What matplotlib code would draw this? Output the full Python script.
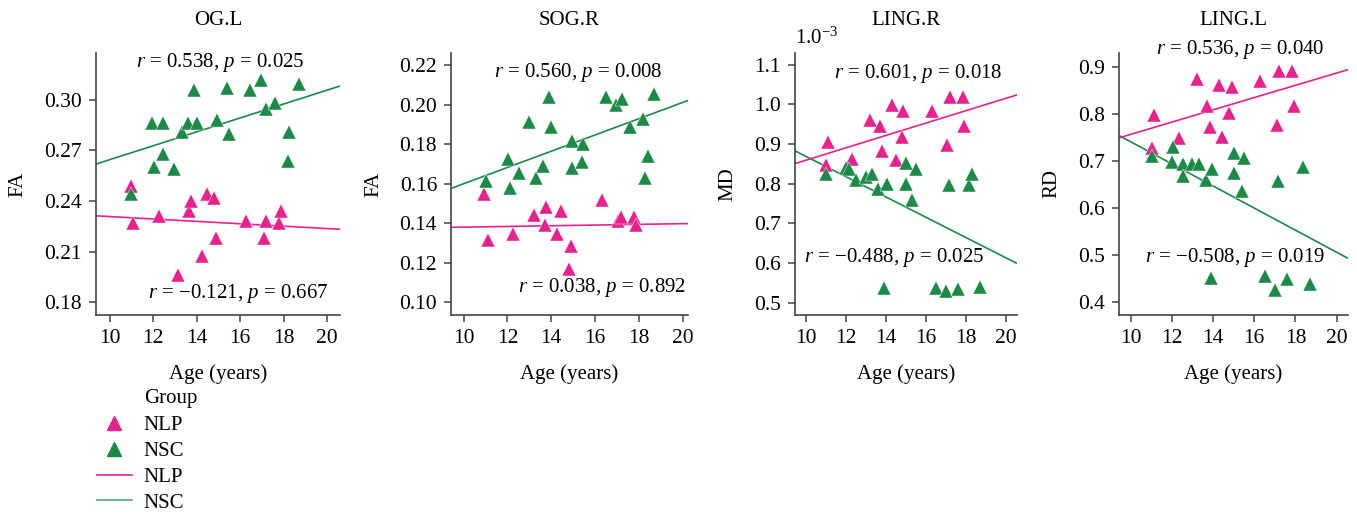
import matplotlib.pyplot as plt
import numpy as np
from matplotlib.lines import Line2D

plt.rcParams['font.family'] = ['Liberation Serif', 'DejaVu Serif']
plt.rcParams['mathtext.fontset'] = 'custom'
plt.rcParams['mathtext.rm'] = 'Liberation Serif'
plt.rcParams['mathtext.it'] = 'Liberation Serif:italic'

pink = '#E8218C'
green = '#1B8A47'

# OG.L (FA)
ogl_nlp_age = [10.98, 11.06, 12.27, 13.16, 13.67, 13.75, 14.27, 14.47, 14.78, 14.9, 16.28, 17.08, 17.19, 17.77, 17.9]
ogl_nlp_val = [0.249, 0.227, 0.231, 0.196, 0.234, 0.240, 0.2075, 0.244, 0.242, 0.218, 0.228, 0.218, 0.228, 0.227, 0.234]
ogl_nsc_age = [10.98, 11.97, 12.47, 12.04, 12.47, 12.96, 13.32, 13.6, 13.9, 14.0, 14.96, 15.5, 15.4, 16.44, 16.97, 17.2, 17.6, 18.27, 18.2, 18.7]
ogl_nsc_val = [0.244, 0.286, 0.286, 0.260, 0.268, 0.259, 0.281, 0.286, 0.3055, 0.286, 0.288, 0.2796, 0.307, 0.3055, 0.3115, 0.2947, 0.298, 0.281, 0.264, 0.3095]

# SOG.R (FA)
sog_nlp_age = [10.95, 11.1, 12.27, 13.19, 13.75, 13.72, 14.28, 14.45, 14.89, 14.82, 16.31, 17.07, 17.2, 17.79, 17.87]
sog_nlp_val = [0.1547, 0.1314, 0.1346, 0.144, 0.1484, 0.1394, 0.1346, 0.1462, 0.1284, 0.1168, 0.1518, 0.1411, 0.1433, 0.1433, 0.1394]
sog_nsc_age = [11.02, 12.01, 12.12, 12.53, 13.0, 13.31, 13.61, 13.92, 13.98, 14.97, 14.97, 15.47, 15.4, 16.49, 16.97, 17.23, 17.58, 18.19, 18.4, 18.29, 18.7]
sog_nsc_val = [0.1615, 0.1728, 0.1579, 0.1657, 0.1915, 0.1628, 0.1691, 0.2039, 0.1886, 0.1818, 0.1682, 0.1801, 0.1711, 0.2039, 0.200, 0.203, 0.1886, 0.1928, 0.1742, 0.1628, 0.2056]

# LING.R (MD, x1e-3)
lingr_nlp_age = [11.0, 11.12, 12.32, 13.21, 13.71, 13.83, 14.3, 14.5, 14.88, 14.83, 16.3, 17.09, 17.22, 17.86, 17.93]
lingr_nlp_val = [0.848, 0.9056, 0.8617, 0.9606, 0.9454, 0.8828, 0.9986, 0.8609, 0.9834, 0.9183, 0.9834, 0.8972, 1.018, 1.018, 0.9454]
lingr_nsc_age = [11.0, 12.04, 12.16, 12.54, 13.04, 13.34, 13.6, 14.05, 13.93, 15.02, 15.02, 15.5, 15.33, 16.52, 17.02, 17.19, 17.61, 18.19, 18.31, 18.73]
lingr_nsc_val = [0.8237, 0.8397, 0.838, 0.8085, 0.817, 0.8254, 0.7874, 0.7983, 0.538, 0.800, 0.8524, 0.838, 0.7578, 0.538, 0.5296, 0.7975, 0.5338, 0.7975, 0.8254, 0.5398]

# LING.L (RD)
lingl_nlp_age = [11.05, 11.13, 12.36, 13.23, 13.72, 13.85, 14.28, 14.44, 14.78, 14.9, 16.3, 17.11, 17.19, 17.84, 17.92]
lingl_nlp_val = [0.728, 0.7988, 0.7492, 0.8752, 0.8179, 0.7726, 0.8625, 0.7506, 0.8023, 0.8568, 0.871, 0.7775, 0.8922, 0.8922, 0.8179]
lingl_nsc_age = [11.05, 12.07, 12.02, 12.55, 12.52, 13.0, 13.33, 13.65, 13.96, 13.9, 15.02, 15.02, 15.49, 15.41, 16.51, 16.99, 17.16, 17.61, 18.35, 18.69]
lingl_nsc_val = [0.7103, 0.7294, 0.6975, 0.694, 0.6678, 0.694, 0.6926, 0.6586, 0.6834, 0.4518, 0.7173, 0.6749, 0.7067, 0.6359, 0.4554, 0.4249, 0.6572, 0.4483, 0.688, 0.4377]

# fitted lines (value at age 10, slope per year)
fit_nlp = [(0.2308, -0.000709), (0.1381, 0.000176), (0.859, 0.01561), (0.7566, 0.01305)]
fit_nsc = [(0.2645, 0.004117), (0.1601, 0.004113), (0.8691, -0.02558), (0.7409, -0.02351)]

titles = ['OG.L', 'SOG.R', 'LING.R', 'LING.L']
ylabels = ['FA', 'FA', 'MD', 'RD']
stats_nlp = ['$r$ = −0.121, $p$ = 0.667', '$r$ = 0.038, $p$ = 0.892',
             '$r$ = 0.601, $p$ = 0.018', '$r$ = 0.536, $p$ = 0.040']
stats_nsc = ['$r$ = 0.538, $p$ = 0.025', '$r$ = 0.560, $p$ = 0.008',
             '$r$ = −0.488, $p$ = 0.025', '$r$ = −0.508, $p$ = 0.019']
yticks = [[0.18, 0.21, 0.24, 0.27, 0.30], [0.10, 0.12, 0.14, 0.16, 0.18, 0.20, 0.22],
          [0.5, 0.6, 0.7, 0.8, 0.9, 1.0, 1.1], [0.4, 0.5, 0.6, 0.7, 0.8, 0.9]]
ytickfmt = ['{:.2f}', '{:.2f}', '{:.1f}', '{:.1f}']
ylims = [(0.1725, 0.3277), (0.0936, 0.2263), (0.4687, 1.1296), (0.3724, 0.9297)]
xlims = [(9.37, 20.6), (9.42, 20.25), (9.465, 20.57), (9.435, 20.55)]
xticks = [10, 12, 14, 16, 18, 20]

nlp_data = [(ogl_nlp_age, ogl_nlp_val), (sog_nlp_age, sog_nlp_val),
            (lingr_nlp_age, lingr_nlp_val), (lingl_nlp_age, lingl_nlp_val)]
nsc_data = [(ogl_nsc_age, ogl_nsc_val), (sog_nsc_age, sog_nsc_val),
            (lingr_nsc_age, lingr_nsc_val), (lingl_nsc_age, lingl_nsc_val)]

# text positions (data coords)
nsc_pos = [(15.08, 0.322), (15.23, 0.2163), (14.42, 0.6133), (15.06, 0.4956)]
nlp_pos = [(15.92, 0.1853), (16.32, 0.1073), (15.62, 1.077), (15.3, 0.9376)]

W, H = 1357, 515
fig = plt.figure(figsize=(W / 100, H / 100), dpi=100)
lefts = [(96, 340), (451, 688), (795, 1017), (1119, 1348)]
ylabel_x = [27, 383, 737, 1061]
fs = 15
axes = []
for i in range(4):
    l, r = lefts[i]
    ax = fig.add_axes([l / W, (H - 315) / H, (r - l) / W, 262 / H])
    axes.append(ax)
    ax.set_xlim(xlims[i])
    ax.set_ylim(ylims[i])
    for s in ['top', 'right']:
        ax.spines[s].set_visible(False)
    for s in ['left', 'bottom']:
        ax.spines[s].set_color('#444444')
        ax.spines[s].set_linewidth(1.2)
    ax.tick_params(direction='out', length=5, width=1.1, color='#444444', labelsize=15.5, pad=5)
    ax.set_xticks(xticks)
    ax.set_yticks(yticks[i])
    ax.set_yticklabels([ytickfmt[i].format(v) for v in yticks[i]])

    xs = np.array(xlims[i])
    b, m = fit_nsc[i]
    ax.plot(xs, b + m * (xs - 10), color=green, lw=1.2)
    b, m = fit_nlp[i]
    ax.plot(xs, b + m * (xs - 10), color=pink, lw=1.2)

    ax.plot(*nlp_data[i], '^', color=pink, ms=9.5, mec='white', mew=0.3, ls='none', clip_on=False)
    ax.plot(*nsc_data[i], '^', color=green, ms=9.5, mec='white', mew=0.3, ls='none', clip_on=False)

    ax.text(*nsc_pos[i], stats_nsc[i], fontsize=fs, ha='center', va='center', clip_on=False)
    ax.text(*nlp_pos[i], stats_nlp[i], fontsize=fs, ha='center', va='center', clip_on=False)

    ax.set_xlabel('Age (years)', fontsize=fs, labelpad=12)
    ax.set_ylabel(ylabels[i], fontsize=fs)
    ax.yaxis.set_label_coords((ylabel_x[i] - l) / (r - l), 0.5)
    ax.set_title(titles[i], fontsize=fs, pad=20)

axes[2].text(0.0, 1.015, '1.0$^{-3}$', transform=axes[2].transAxes, fontsize=fs,
             ha='left', va='bottom')

# legend
fig.text(144 / W, (H - 399) / H, 'Group', fontsize=fs, ha='left', va='center')
handles = [Line2D([], [], marker='^', color=pink, ls='none', ms=9.5),
           Line2D([], [], marker='^', color=green, ls='none', ms=9.5),
           Line2D([], [], color=pink, lw=1.2),
           Line2D([], [], color='#55A878', lw=1.2)]
fig.legend(handles, ['NLP', 'NSC', 'NLP', 'NSC'], loc='upper left',
           bbox_to_anchor=(82 / W, (H - 401) / H), frameon=False, fontsize=fs,
           handlelength=1.7, labelspacing=0.3, borderpad=0.2,
           handletextpad=0.55)

fig.savefig('out.png', dpi=100)
